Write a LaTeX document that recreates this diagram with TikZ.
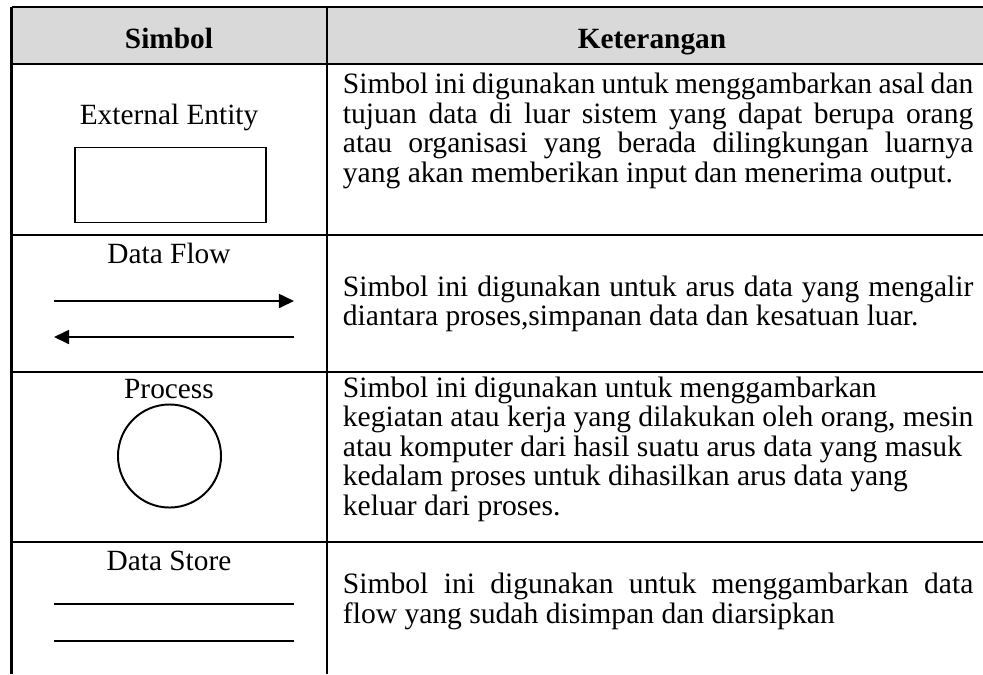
\documentclass[tikz,border=0pt]{standalone}
\usepackage{fontspec}
\setmainfont{Liberation Serif}
\usetikzlibrary{arrows.meta}

\newlength{\ketw}
\setlength{\ketw}{290pt}
\newcommand{\jline}[1]{\makebox[\ketw][s]{#1}}

\tikzset{
	tbl/.style={line width=1pt},
	shp/.style={line width=0.9pt},
	txt/.style={font=\fontsize{13.5}{13.6}\selectfont, anchor=base, inner sep=0pt},
	hdr/.style={txt, font=\fontsize{13.5}{13.6}\selectfont\bfseries},
	ket/.style={txt, font=\fontsize{13.6}{13.6}\selectfont, anchor=base west, text width=300pt,
		execute at begin node={\spaceskip=0pt\xspaceskip=0pt\relax}},
	flow/.style={line width=0.9pt, -{Triangle[length=7pt,width=6.5pt]}}
}

\begin{document}
\begin{tikzpicture}[x=0.46pt, y=-0.46pt]
		\useasboundingbox (0,0) rectangle (983,674);
		\fill[gray!30] (11.5,7) rectangle (983,64);
		\foreach \y in {7,64,235,372,542}{
			\draw[tbl] (11.5,\y) -- (983,\y);
		}
		\foreach \x in {11.5,327}{
			\draw[tbl] (\x,7) -- (\x,674);
		}
		\node[hdr] (hsim) at (169,48) {Simbol};
		\node[hdr] (hket) at (652,48) {Keterangan};
		% kolom simbol
		\node[txt] (lee) at (169,124) {External Entity};
		\node[draw, shp, minimum width=88pt, minimum height=34.5pt, inner sep=0pt] (ee) at (170.5,185) {};
		\node[txt] (ldf) at (169,263) {Data Flow};
		\coordinate (f1a) at (54,301);
		\coordinate (f1b) at (294,301);
		\coordinate (f2a) at (294,337);
		\coordinate (f2b) at (54,337);
		\draw[flow] (f1a) -- (f1b);
		\draw[flow] (f2a) -- (f2b);
		\node[txt] (lpr) at (169,398) {Process};
		\node[draw, circle, shp, minimum size=47.4pt, inner sep=0pt] (pr) at (169.5,456) {};
		\node[txt] (lds) at (169,570) {Data Store};
		\foreach \y/\n in {604/s1,641/s2}{
			\coordinate (\n a) at (54,\y);
			\coordinate (\n b) at (294,\y);
			\draw[shp] (\n a) -- (\n b);
		}
		% kolom keterangan
		\node[ket] (kee) at (342.5,93.5) {\jline{Simbol ini digunakan untuk menggambarkan asal dan}\\
			\jline{tujuan data di luar sistem yang dapat berupa orang}\\
			\jline{atau organisasi yang berada dilingkungan luarnya}\\
			yang akan memberikan input dan menerima output.};
		\node[ket] (kdf) at (342.5,296) {\jline{Simbol ini digunakan untuk arus data yang mengalir}\\
			diantara proses,simpanan data dan kesatuan luar.};
		\node[ket] (kpr) at (342.5,397) {Simbol ini digunakan untuk menggambarkan\\
			kegiatan atau kerja yang dilakukan oleh orang, mesin\\
			atau komputer dari hasil suatu arus data yang masuk\\
			kedalam proses untuk dihasilkan arus data yang\\
			keluar dari proses.};
		\node[ket] (kds) at (342.5,593.5) {\jline{Simbol ini digunakan untuk menggambarkan data}\\
			flow yang sudah disimpan dan diarsipkan};
	\end{tikzpicture}
\end{document}
